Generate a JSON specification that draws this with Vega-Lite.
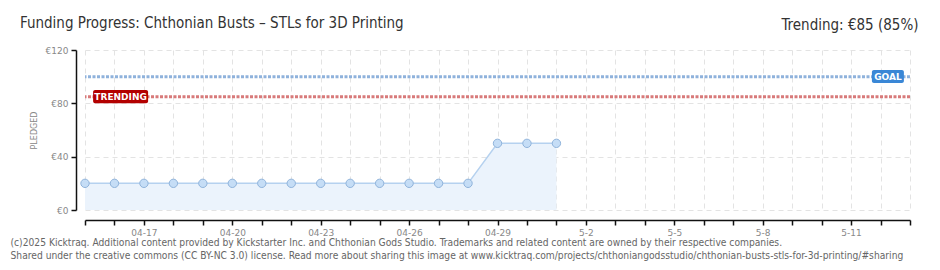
{
  "$schema": "https://vega.github.io/schema/vega-lite/v6.json",
  "width": 825,
  "height": 160,
  "autosize": {"type": "none"},
  "padding": {"left": 85, "top": 50, "right": 30, "bottom": 60},
  "background": "white",
  "config": {"view": {"stroke": null}, "font": "DejaVu Sans"},
  "title": {
    "text": "Funding Progress: Chthonian Busts – STLs for 3D Printing",
    "anchor": "start",
    "frame": "group",
    "dx": -65,
    "dy": 14,
    "fontSize": 15,
    "font": "DejaVu Sans Condensed",
    "fontWeight": "normal",
    "color": "#333333",
    "offset": 0
  },
  "datasets": {
    "pledges": [
      {"date": "2025/04/15", "pledged": 20},
      {"date": "2025/04/16", "pledged": 20},
      {"date": "2025/04/17", "pledged": 20},
      {"date": "2025/04/18", "pledged": 20},
      {"date": "2025/04/19", "pledged": 20},
      {"date": "2025/04/20", "pledged": 20},
      {"date": "2025/04/21", "pledged": 20},
      {"date": "2025/04/22", "pledged": 20},
      {"date": "2025/04/23", "pledged": 20},
      {"date": "2025/04/24", "pledged": 20},
      {"date": "2025/04/25", "pledged": 20},
      {"date": "2025/04/26", "pledged": 20},
      {"date": "2025/04/27", "pledged": 20},
      {"date": "2025/04/28", "pledged": 20},
      {"date": "2025/04/29", "pledged": 50},
      {"date": "2025/04/30", "pledged": 50},
      {"date": "2025/05/01", "pledged": 50}
    ]
  },
  "layer": [
    {
      "data": {"name": "pledges"},
      "mark": {"type": "area", "fill": "#ebf3fc", "opacity": 1, "line": {"stroke": "#b5d1ef", "strokeWidth": 1.5}},
      "encoding": {
        "x": {
          "field": "date", "type": "temporal",
          "scale": {"domain": [{"year": 2025, "month": 4, "date": 15}, {"year": 2025, "month": 5, "date": 13}], "nice": false, "padding": 0},
          "axis": {
            "orient": "bottom", "offset": 10,
            "tickCount": {"interval": "day", "step": 1},
            "labelExpr": "(round((datum.value - datetime(2025,3,15))/86400000) - 2) % 3 == 0 ? (month(datum.value) == 3 ? timeFormat(datum.value, '%m-%d') : timeFormat(datum.value, '%-m-%-d')) : ''",
            "labelOverlap": false, "labelFlush": false,
            "labelFontSize": 9, "labelColor": "#888888", "labelPadding": 3,
            "tickColor": "#111111", "tickSize": 5, "tickWidth": 1.5,
            "domainColor": "#111111", "domainWidth": 1.5,
            "grid": true, "gridColor": "#e3e3e3", "gridDash": [5, 4],
            "title": ["(c)2025 Kicktraq. Additional content provided by Kickstarter Inc. and Chthonian Gods Studio. Trademarks and related content are owned by their respective companies.", "Shared under the creative commons (CC BY-NC 3.0) license. Read more about sharing this image at www.kicktraq.com/projects/chthoniangodsstudio/chthonian-busts-stls-for-3d-printing/#sharing"],
            "titleAnchor": "start", "titleAlign": "left", "titleX": -75, "titleY": 25,
            "titleBaseline": "alphabetic", "titleFontSize": 10.2, "titleFontWeight": "normal",
            "titleColor": "#666666", "titleLineHeight": 13, "titleFont": "DejaVu Sans Condensed"
          }
        },
        "y": {
          "field": "pledged", "type": "quantitative",
          "scale": {"domain": [0, 120], "nice": false},
          "axis": {
            "values": [0, 10, 20, 30, 40, 50, 60, 70, 80, 90, 100, 110, 120],
            "offset": 9,
            "labelExpr": "datum.value % 20 == 0 ? '€' + datum.value : ''",
            "tickColor": {"condition": {"test": "datum.value % 20 == 0", "value": "#111111"}, "value": "#e00000"},
            "tickSize": {"condition": {"test": "datum.value % 20 == 0", "value": 5}, "value": 3},
            "tickWidth": 1.5,
            "gridOpacity": {"condition": {"test": "datum.value % 20 == 0", "value": 1}, "value": 0},
            "gridColor": "#e3e3e3", "gridDash": [5, 4],
            "domainColor": "#111111", "domainWidth": 1.5,
            "labelFontSize": 9, "labelColor": "#888888", "labelPadding": 3,
            "title": "PLEDGED", "titleFontSize": 8, "titleColor": "#888888",
            "titleFontWeight": "normal", "titlePadding": 7
          }
        }
      }
    },
    {
      "data": {"values": [{"label": "GOAL", "amount": 100}]},
      "mark": {"type": "rule", "color": "#8fb2dc", "strokeWidth": 3, "strokeDash": [3, 1.5]},
      "encoding": {"y": {"field": "amount", "type": "quantitative"}}
    },
    {
      "data": {"values": [{"label": "TRENDING", "amount": 85}]},
      "mark": {"type": "rule", "color": "#d87a7a", "strokeWidth": 3, "strokeDash": [3, 1.5]},
      "encoding": {"y": {"field": "amount", "type": "quantitative"}}
    },
    {
      "data": {"name": "pledges"},
      "mark": {"type": "circle", "size": 70, "fill": "#c5ddf6", "stroke": "#8fb3db", "strokeWidth": 1, "opacity": 1},
      "encoding": {
        "x": {
          "field": "date", "type": "temporal",
          "axis": {
            "orient": "top", "labels": false, "ticks": false, "domain": false, "grid": false,
            "title": "Trending: €85 (85%)", "titleAnchor": "end", "titleAlign": "right",
            "titleX": 833, "titleY": -21, "titleBaseline": "alphabetic",
            "titleFontSize": 15, "titleFont": "DejaVu Sans Condensed", "titleFontWeight": "normal", "titleColor": "#333333"
          }
        },
        "y": {"field": "pledged", "type": "quantitative"}
      }
    },
    {
      "data": {"values": [{"label": "GOAL", "amount": 100}]},
      "mark": {"type": "bar", "width": 32, "fill": "#3a87d6", "cornerRadius": 2},
      "encoding": {
        "x": {"datum": {"year": 2025, "month": 5, "date": 12, "hours": 6}, "type": "temporal", "axis": null},
        "y": {"datum": 95.2, "type": "quantitative"},
        "y2": {"datum": 105}
      }
    },
    {
      "data": {"values": [{"label": "GOAL", "amount": 100}]},
      "mark": {"type": "text", "color": "white", "fontSize": 9, "fontWeight": "bold", "align": "center", "baseline": "middle"},
      "encoding": {
        "x": {"datum": {"year": 2025, "month": 5, "date": 12, "hours": 6}, "type": "temporal", "axis": null},
        "y": {"field": "amount", "type": "quantitative"},
        "text": {"field": "label"}
      }
    },
    {
      "data": {"values": [{"label": "TRENDING", "amount": 85}]},
      "mark": {"type": "bar", "width": 55, "fill": "#b30000", "cornerRadius": 2},
      "encoding": {
        "x": {"datum": {"year": 2025, "month": 4, "date": 16, "hours": 5}, "type": "temporal", "axis": null},
        "y": {"datum": 80.1, "type": "quantitative"},
        "y2": {"datum": 90}
      }
    },
    {
      "data": {"values": [{"label": "TRENDING", "amount": 85}]},
      "mark": {"type": "text", "color": "white", "fontSize": 9, "fontWeight": "bold", "align": "center", "baseline": "middle"},
      "encoding": {
        "x": {"datum": {"year": 2025, "month": 4, "date": 16, "hours": 5}, "type": "temporal", "axis": null},
        "y": {"field": "amount", "type": "quantitative"},
        "text": {"field": "label"}
      }
    }
  ],
  "resolve": {"axis": {"x": "independent"}}
}
